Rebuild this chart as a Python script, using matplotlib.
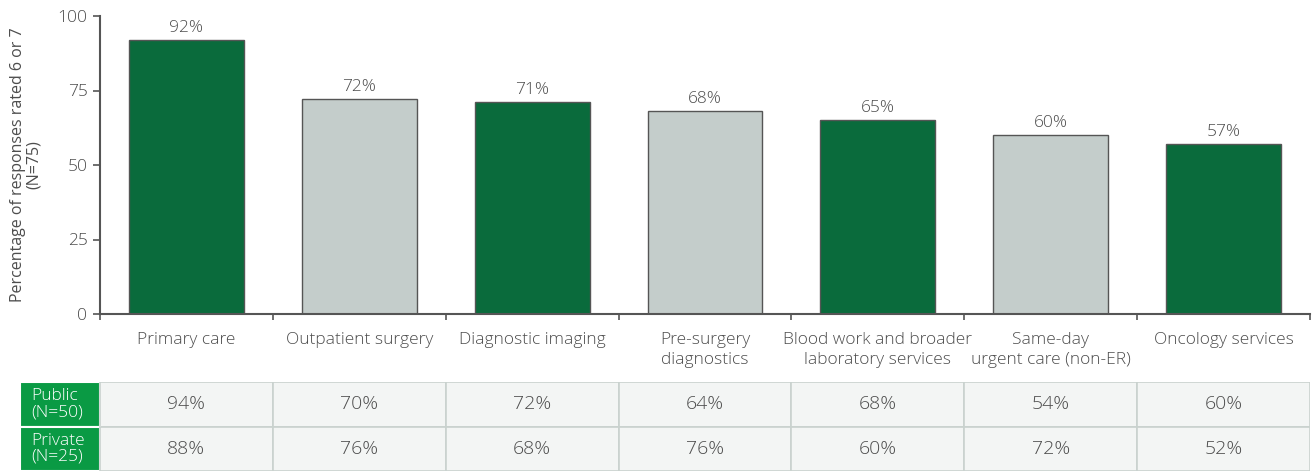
import numpy as np
import matplotlib
matplotlib.use("Agg")
import matplotlib.pyplot as plt
from matplotlib.patches import Rectangle

plt.rcParams["font.family"] = ["Open Sans", "DejaVu Sans"]
plt.rcParams["font.weight"] = "light"

# survey results
categories = [
    "Primary care",
    "Outpatient surgery",
    "Diagnostic imaging",
    "Pre-surgery\ndiagnostics",
    "Blood work and broader\nlaboratory services",
    "Same-day\nurgent care (non-ER)",
    "Oncology services",
]
overall = [92, 72, 71, 68, 65, 60, 57]
public = [94, 70, 72, 64, 68, 54, 60]
private = [88, 76, 68, 76, 60, 72, 52]
row_labels = ["Public\n(N=50)", "Private\n(N=25)"]
yticks = [0, 25, 50, 75, 100]

DARK = "#0a6b3c"
LIGHT = "#c4cdcb"
HEADER = "#0a9a44"
CELL = "#f3f5f4"
GRIDC = "#c9d2ce"
TEXT = "#4d4d4d"
SPINE = "#555555"

W, H = 1315, 471
fig = plt.figure(figsize=(W / 100, H / 100), dpi=100)

# main bar chart
ax = fig.add_axes([100 / W, 1 - 314 / H, 1210 / W, 298 / H])
x = np.arange(len(categories))
colors = [DARK if i % 2 == 0 else LIGHT for i in range(len(categories))]
ax.bar(x, overall, width=0.665, color=colors, edgecolor=SPINE, linewidth=1.0)
for xi, v in zip(x, overall):
    ax.text(xi, v + 1.4, f"{v}%", ha="center", va="bottom", fontsize=12.5, color=TEXT)

ax.set_xlim(-0.5, len(categories) - 0.5)
ax.set_ylim(0, 100)
ax.set_yticks(yticks)
ax.set_yticklabels([str(t) for t in yticks], fontsize=12.5, color=TEXT)
ax.set_xticks(np.arange(len(categories) + 1) - 0.5)
ax.set_xticklabels([])
ax.set_xticks(x, minor=True)
ax.set_xticklabels(categories, minor=True, fontsize=12.5, color=TEXT, va="top", linespacing=1.3)
ax.tick_params(axis="x", which="minor", length=0, pad=13)
ax.tick_params(axis="x", which="major", length=4, width=1.2, color=SPINE, direction="out")
ax.tick_params(axis="y", length=5, width=1.2, color=SPINE, pad=4)
for side in ["top", "right"]:
    ax.spines[side].set_visible(False)
for side in ["left", "bottom"]:
    ax.spines[side].set_color(SPINE)
    ax.spines[side].set_linewidth(1.5)
ax.set_ylabel("Percentage of responses rated 6 or 7\n(N=75)", fontsize=11.5, color=TEXT,
              labelpad=11, linespacing=1.05)

# breakdown table below the chart
head_w = 80 / (1210 / len(categories))
tax = fig.add_axes([20 / W, 0, 1290 / W, 89 / H])
tax.set_xlim(-0.5 - head_w, len(categories) - 0.5)
tax.set_ylim(0, 2)
tax.axis("off")
rows = [public, private]
for r, (label, vals) in enumerate(zip(row_labels, rows)):
    y0 = 1 - r
    tax.add_patch(Rectangle((-0.5 - head_w, y0), head_w, 1, facecolor=HEADER,
                            edgecolor="white", linewidth=1.5))
    tax.text(-0.5 - head_w + 0.065, y0 + 0.5, label, ha="left", va="center",
             fontsize=12.5, color="white", linespacing=1.0)
    for c, v in enumerate(vals):
        tax.add_patch(Rectangle((c - 0.5, y0), 1, 1, facecolor=CELL,
                                edgecolor=GRIDC, linewidth=1.2))
        tax.text(c, y0 + 0.5, f"{v}%", ha="center", va="center", fontsize=14, color=TEXT)

fig.savefig("out.png", dpi=100)
